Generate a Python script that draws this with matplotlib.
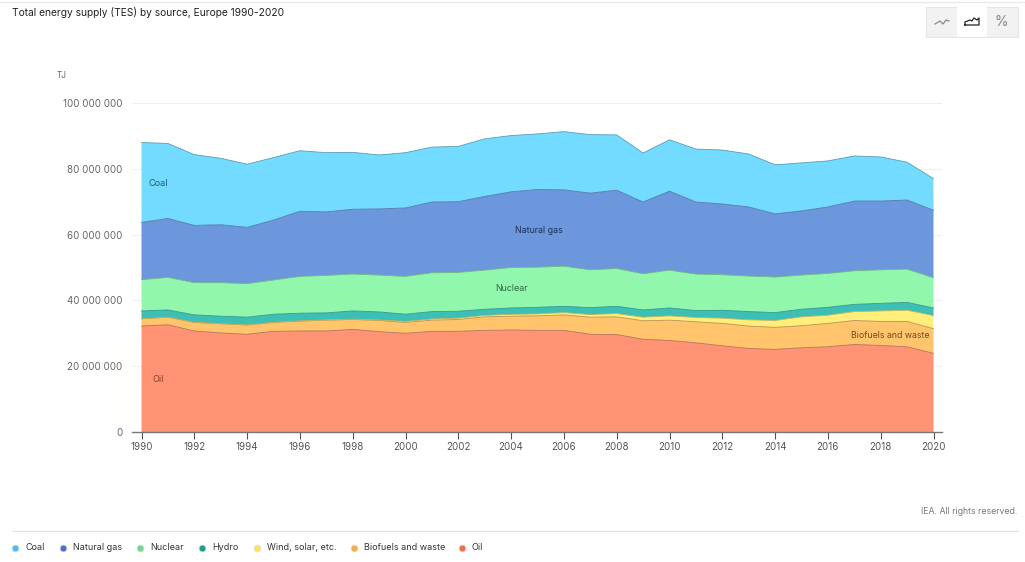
import matplotlib.pyplot as plt
from matplotlib.patches import Rectangle
from matplotlib.ticker import FuncFormatter

plt.rcParams['font.family'] = ['Inter', 'DejaVu Sans']

W, H = 1025, 562

years = list(range(1990, 2021))

# Million TJ per source, bottom of the stack first
oil = [32.2, 32.6, 30.7, 30.1, 29.7, 30.6, 30.7, 30.7, 31.2, 30.5, 30.0, 30.6, 30.6, 30.9, 31.0, 30.9,
       30.9, 29.7, 29.6, 28.2, 27.8, 27.1, 26.2, 25.4, 25.1, 25.6, 25.9, 26.6, 26.3, 25.9, 23.9]
biofuels = [2.2, 2.3, 2.6, 2.8, 2.8, 2.7, 3.0, 3.3, 3.0, 3.4, 3.3, 3.4, 3.6, 4.1, 4.2, 4.4,
            4.7, 5.2, 5.4, 5.6, 6.2, 6.4, 6.8, 6.8, 6.7, 6.7, 7.1, 7.3, 7.3, 7.7, 7.5]
wind_solar = [0.03, 0.03, 0.03, 0.04, 0.05, 0.06, 0.07, 0.09, 0.12, 0.15, 0.3, 0.35, 0.4, 0.45, 0.55, 0.6,
              0.7, 0.8, 1.0, 1.1, 1.3, 1.3, 1.6, 1.9, 2.1, 2.7, 2.5, 2.7, 3.2, 3.4, 4.0]
hydro = [2.37, 2.17, 2.27, 2.26, 2.35, 2.44, 2.33, 2.11, 2.48, 2.45, 2.2, 2.25, 2.1, 1.85, 1.95, 2.0,
         1.9, 2.1, 2.2, 2.2, 2.4, 2.1, 2.4, 2.5, 2.4, 2.3, 2.4, 2.2, 2.3, 2.4, 2.3]
nuclear = [9.5, 9.9, 9.8, 10.2, 10.2, 10.4, 11.2, 11.4, 11.2, 11.2, 11.5, 11.8, 11.8, 11.9, 12.3, 12.2,
           12.2, 11.5, 11.5, 11.0, 11.5, 11.1, 10.8, 10.8, 10.8, 10.4, 10.3, 10.2, 10.2, 10.1, 9.2]
natural_gas = [17.4, 17.9, 17.4, 17.6, 17.1, 18.2, 19.8, 19.3, 19.7, 20.1, 20.8, 21.5, 21.5, 22.4, 23.0, 23.6,
               23.2, 23.3, 23.8, 21.8, 24.0, 21.9, 21.5, 21.0, 19.2, 19.5, 20.2, 21.2, 20.9, 21.0, 20.5]
coal = [24.3, 22.8, 21.5, 20.2, 19.2, 19.0, 18.4, 18.0, 17.3, 16.4, 16.8, 16.7, 16.8, 17.5, 17.1, 16.9,
        17.7, 17.8, 16.8, 14.9, 15.6, 16.1, 16.4, 16.1, 14.9, 14.6, 14.0, 13.7, 13.4, 11.5, 9.6]

series = [oil, biofuels, wind_solar, hydro, nuclear, natural_gas, coal]
fills = ['#ff9374', '#ffc46c', '#ffee7a', '#3cbfb4', '#91f7ac', '#6d97dc', '#72dbff']
edges = ['#b5705a', '#b8904f', '#c0b25c', '#2f968d', '#6cb583', '#5478a8', '#5a9db5']

legend_names = ['Coal', 'Natural gas', 'Nuclear', 'Hydro', 'Wind, solar, etc.', 'Biofuels and waste', 'Oil']
legend_dots = ['#4bbfe8', '#4a73bf', '#6fd791', '#14a08f', '#fbe45f', '#f2ae4a', '#e9714f']
legend_dot_x = [15, 63, 140, 202, 257, 354, 462]
legend_text_x = [25, 73, 150, 212, 267, 364, 472]

fig = plt.figure(figsize=(W / 100, H / 100), dpi=100, facecolor='white')
ax = fig.add_axes([132 / W, 1 - 432 / H, 810 / W, 329 / H])

ax.stackplot(years, series, colors=fills, edgecolor='none', zorder=2)
top = [0] * len(years)
for values, edge in zip(series, edges):
    top = [a + b for a, b in zip(top, values)]
    ax.plot(years, top, color=edge, lw=0.6, zorder=3)

ax.set_xlim(1990 - 9.5 / 26.4, 2020 + 8.5 / 26.4)
ax.set_ylim(0, 100)
ax.set_xticks(range(1990, 2021, 2))
ax.set_yticks(range(0, 101, 20))
ax.yaxis.set_major_formatter(FuncFormatter(lambda v, _: '0' if v == 0 else f'{int(v)} 000 000'))
ax.grid(axis='y', color='#eeeeee', lw=0.8, zorder=0)
ax.set_axisbelow(True)
ax.tick_params(axis='y', length=0, pad=7, labelsize=7, labelcolor='#666666')
ax.tick_params(axis='x', length=5, width=0.8, color='#555555', pad=2, labelsize=7, labelcolor='#555555')
for side in ['top', 'left', 'right']:
    ax.spines[side].set_visible(False)
ax.spines['bottom'].set_color('#777777')
ax.spines['bottom'].set_linewidth(1.0)
ax.spines['bottom'].set_zorder(5)

# Labels inside the bands
ax.text(1990.27, 75.5, 'Coal', fontsize=6.6, color='#1f5f78', va='center', zorder=6)
ax.text(2004.13, 61.2, 'Natural gas', fontsize=6.4, color='#1d2f55', va='center', zorder=6)
ax.text(2003.39, 43.5, 'Nuclear', fontsize=6.4, color='#2f6a42', va='center', zorder=6)
ax.text(2016.88, 29.3, 'Biofuels and waste', fontsize=6.3, color='#6b4f20', va='center', zorder=6)
ax.text(1990.43, 15.9, 'Oil', fontsize=6.6, color='#8a3f2a', va='center', zorder=6)

# Page furniture drawn in pixel coordinates
ui = fig.add_axes([0, 0, 1, 1], zorder=10)
ui.set_xlim(0, W)
ui.set_ylim(H, 0)
ui.axis('off')

ui.plot([0, W], [2, 2], color='#e8e8e8', lw=0.8)
ui.plot([12, 1018], [530.5, 530.5], color='#e4e4e4', lw=0.9)

ui.text(12, 13, 'Total energy supply (TES) by source, Europe 1990-2020', fontsize=7.35, color='#222222', va='center')
ui.text(57, 75.5, 'TJ', fontsize=6, color='#666666', va='center')
ui.text(1017, 511, 'IEA. All rights reserved.', fontsize=6.3, color='#777777', va='center', ha='right')

# Chart type switch
ui.add_patch(Rectangle((926, 7), 92, 30, fc='#f2f2f2', ec='#e6e6e6', lw=0.8))
ui.add_patch(Rectangle((957, 7), 30, 30, fc='white', ec='none'))
ui.plot([935, 940, 943, 946, 949], [24, 21, 24, 20, 21], color='#888888', lw=0.9)
ui.plot([965, 965, 970, 972, 974, 977, 979, 979, 965], [25, 22, 20, 21, 18, 20, 18, 25, 25], color='#222222', lw=0.9)
ui.text(1001, 22, '%', fontsize=10, color='#888888', ha='center', va='center')

# Legend row
for name, dot, dx, tx in zip(legend_names, legend_dots, legend_dot_x, legend_text_x):
    ui.scatter([dx], [548], s=24, color=dot, edgecolors='#dddddd', linewidths=0.5)
    ui.text(tx, 547.5, name, fontsize=6.5, color='#333333', va='center')

fig.savefig('out.png', dpi=100)
